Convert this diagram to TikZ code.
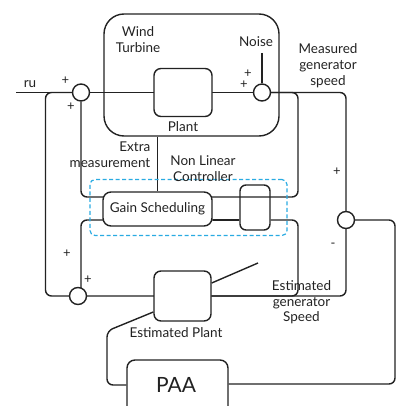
\documentclass[tikz,border=0pt]{standalone}
\usepackage{fontspec}
\setmainfont{Lato}
\usetikzlibrary{backgrounds}
\definecolor{lc}{HTML}{222222}
\definecolor{cy}{HTML}{29ABE2}
\begin{document}
\begin{tikzpicture}[x=1pt,y=-1pt,
  ln/.style={line width=1.4pt, draw=lc, rounded corners=6pt},
  box/.style={draw=lc, line width=1.4pt, rectangle, inner sep=0pt},
  sj/.style={draw=lc, line width=1.4pt, circle, minimum size=17pt, inner sep=0pt, fill=white},
  lbl/.style={inner sep=0pt, font=\fontsize{13.5}{16}\selectfont, text=lc, align=center},
  pm/.style={inner sep=0pt, font=\fontsize{13}{15}\selectfont, text=lc}]
\useasboundingbox (0,0) rectangle (398,406);
\clip (0,0) rectangle (398,406);
% boxes
\node[box, rounded corners=20pt, minimum width=175pt, minimum height=122pt] (wt) at (191.5,75) {};
\node[box, rounded corners=7pt, minimum width=58pt, minimum height=48pt, fill=white] (plant) at (183,92.5) {};
\node[sj] (j1) at (81,92.5) {};
\node[sj] (j2) at (262,92.5) {};
\node[sj] (j3) at (346,220) {};
\node[sj] (j4) at (78,296) {};
\node[box, draw=cy, line width=1.2pt, dash pattern=on 4pt off 2.5pt, rounded corners=5pt, minimum width=197pt, minimum height=56pt] (ctl) at (188.5,207.5) {};
\node[box, rounded corners=8pt, minimum width=109pt, minimum height=34pt, fill=white, lbl] (gs) at (157.5,209) {Gain Scheduling};
\node[box, rounded corners=6pt, minimum width=30pt, minimum height=45pt] (sb) at (255,207.5) {};
\node[box, rounded corners=7pt, minimum width=57pt, minimum height=50pt, fill=white] (ep) at (182.5,296) {};
\node[box, rounded corners=8pt, minimum width=101pt, minimum height=60pt, fill=white] (paa) at (177.5,390) {};
\node[inner sep=0pt, font=\fontsize{21}{24}\selectfont, text=lc] (paat) at (176,385) {PAA};
% free ends
\coordinate (ru) at (16,92.5);
\coordinate (noise) at (262,53);
\coordinate (adapt) at (258,263);
% connectors
\begin{scope}[on background layer]
\draw[ln] (ru) -- (j2);
\draw[ln] (noise) -- (j2);
\draw[ln] (j2) -- (346,92.5) -- (j3);
\draw[ln] (j2) -- (298,92.5) -- (298,197) -- (81,197) -- (j1);
\draw[ln] (sb.west |- 0,220) -- (81,220) -- ([xshift=3pt]j4.center);
\draw[ln] (gs.east |- 0,220) -- (sb.west |- 0,220);
\draw[ln] (j4) -- (346,296) -- (j3);
\draw[ln] (ep.east) -- (298,296) -- (298,220) -- (sb.east |- 0,220);
\draw[ln] (j1) -- (45.5,92.5) -- (45.5,296) -- (j4);
\draw[ln] (paa.east |- 0,384) -- (395,384) -- (395,220) -- (j3);
\draw[ln] (paa.west |- 0,385) -- (107,385) -- (107,331) -- (ep.west |- 0,312);
\draw[ln] (ep.east |- 0,283) -- (adapt);
\draw[ln] (gs.north |- wt.south) -- (gs.north);
\end{scope}
% labels
\node[lbl] (lru) at (30,84) {ru};
\node[pm] (p1) at (65.5,81) {+};
\node[pm] (p2) at (71,106.5) {+};
\node[lbl] (lwt) at (138,40) {Wind\\Turbine};
\node[lbl] (lpl) at (183,127) {Plant};
\node[lbl] (lno) at (256,42) {Noise};
\node[pm] (p3) at (248,74) {+};
\node[pm] (p4) at (244,85) {+};
\node[lbl] (lms) at (328,66) {Measured\\generator\\speed};
\node[lbl, align=right, anchor=east] (lex) at (150.5,154.5) {Extra\\measurement};
\node[lbl] (lnl) at (203,168.5) {Non Linear\\Controller};
\node[pm] (p5) at (337,172) {+};
\node[pm] (m1) at (333,245) {-};
\node[pm] (p6) at (67,254) {+};
\node[pm] (p7) at (88,280) {+};
\node[lbl] (lep) at (176,333) {Estimated Plant};
\node[lbl, font=\fontsize{13.5}{15.5}\selectfont] (les) at (301.5,302.5) {Estimated\\generator\\Speed};
\end{tikzpicture}
\end{document}
